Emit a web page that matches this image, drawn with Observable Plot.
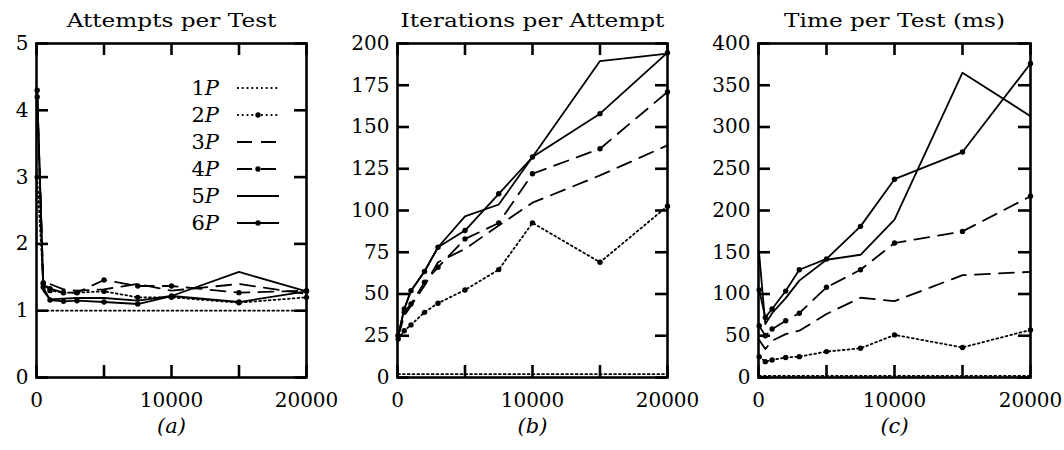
<!DOCTYPE html>
<html><head><meta charset="utf-8">
<script src="https://cdn.jsdelivr.net/npm/d3@7"></script>
<script src="https://cdn.jsdelivr.net/npm/@observablehq/plot@0.6"></script>
<style>
body{margin:0;background:#fff;}
#wrap{position:relative;width:1064px;height:450px;display:flex;}
#wrap svg{display:block;overflow:visible;}
</style></head><body><div id="wrap"></div>
<script>
// ---- data ----
const xs = [50, 500, 1000, 2000, 3000, 5000, 7500, 10000, 15000, 20000];
const seriesNames = ["1P", "2P", "3P", "4P", "5P", "6P"];
const xTicks = [0, 5000, 10000, 15000, 20000];
const xTickLabels = [0, 10000, 20000];

const attemptsPerTest = [
  [1, 1, 1, 1, 1, 1, 1, 1, 1, 1],
  [3.0, 1.42, 1.3, 1.27, 1.27, 1.29, 1.2, 1.2, 1.12, 1.2],
  [4.2, 1.45, 1.4, 1.32, 1.3, 1.32, 1.4, 1.3, 1.4, 1.25],
  [4.2, 1.4, 1.33, 1.27, 1.27, 1.46, 1.37, 1.37, 1.27, 1.3],
  [4.3, 1.3, 1.17, 1.18, 1.19, 1.19, 1.15, 1.22, 1.58, 1.29],
  [4.3, 1.35, 1.16, 1.14, 1.15, 1.13, 1.1, 1.22, 1.13, 1.29]
];
const iterationsPerAttempt = [
  [2, 2, 2, 2, 2, 2, 2, 2, 2, 2],
  [23, 28, 31.5, 39, 44.5, 52.4, 64.6, 92.6, 69, 102.6],
  [25, 37, 43, 55, 69, 77, 91, 104.7, 121, 139],
  [25, 39, 44, 57, 66, 83, 92.5, 122, 137, 171],
  [25, 41, 52, 63.5, 78, 96.5, 103.6, 132, 189.5, 194],
  [25, 41, 52, 63.5, 78, 88, 110, 132, 158, 194.5]
];
const timePerTest = [
  [2, 2, 2, 2, 2, 2, 2, 2, 2, 2],
  [25, 19, 21, 24, 25, 31, 35, 51, 36, 57],
  [45, 34, 44, 52, 56, 76, 95.5, 91.5, 122.5, 126.5],
  [62, 50, 58, 68, 77, 108, 129, 161, 175, 217],
  [148, 64, 77, 95, 116, 141, 147, 189, 365, 313],
  [105, 72, 82, 103.5, 129, 142, 181, 237.5, 270, 376]
];

const titles = ["Attempts per Test", "Iterations per Attempt", "Time per Test (ms)"];
const captions = ["(a)", "(b)", "(c)"];
const yTicksA = [0, 1, 2, 3, 4, 5];
const yTicksB = [0, 25, 50, 75, 100, 125, 150, 175, 200];
const yTicksC = [0, 50, 100, 150, 200, 250, 300, 350, 400];

// ---- styles ----
const dashes = ["1.8,3", "1.8,3", "15,9", "15,9", null, null];
const hasMarker = [false, true, false, true, false, true];
const FONT = "DejaVu Serif";
const LW = 1.8;
const H = 450, MT = 43, MB = 73;
const innerH = H - MT - MB;

function panel(values, yTicks, title, caption, width, ml, mr) {
  const innerW = width - ml - mr;
  const rows = [];
  values.forEach((arr, s) => arr.forEach((v, i) => rows.push({s, x: xs[i], y: v})));
  const marks = [];
  seriesNames.forEach((name, s) => {
    marks.push(Plot.line(rows.filter(d => d.s === s), {
      x: "x", y: "y", stroke: "black", strokeWidth: LW,
      strokeDasharray: dashes[s] || undefined
    }));
  });
  seriesNames.forEach((name, s) => {
    if (hasMarker[s]) marks.push(Plot.dot(rows.filter(d => d.s === s), {x: "x", y: "y", r: 2.7, fill: "black", stroke: "none"}));
  });
  // inward ticks on four sides
  const tw = 2.6, tl = 12;
  marks.push(Plot.ruleX(xTicks, {stroke: "black", strokeWidth: tw, insetTop: innerH - tl}));
  marks.push(Plot.ruleX(xTicks, {stroke: "black", strokeWidth: tw, insetBottom: innerH - tl}));
  marks.push(Plot.ruleY(yTicks, {stroke: "black", strokeWidth: tw, insetRight: innerW - tl}));
  marks.push(Plot.ruleY(yTicks, {stroke: "black", strokeWidth: tw, insetLeft: innerW - tl}));
  marks.push(Plot.frame({stroke: "black", strokeWidth: 2.6}));
  marks.push(Plot.axisX(xTickLabels, {tickSize: 0, tickPadding: 15, tickFormat: "d", label: null}));
  marks.push(Plot.axisY(yTicks, {tickSize: 0, tickPadding: 8, tickFormat: "d", label: null}));
  marks.push(Plot.text([title], {frameAnchor: "top", dy: -30, fontSize: 19, fill: "black", className: "ptitle"}));
  marks.push(Plot.text([caption], {frameAnchor: "bottom", dy: 55, fontSize: 21, fontStyle: "italic", fill: "black"}));
  return Plot.plot({
    width, height: H,
    marginTop: MT, marginBottom: MB, marginLeft: ml, marginRight: mr,
    x: {domain: [0, 20000]},
    y: {domain: [yTicks[0], yTicks[yTicks.length - 1]]},
    style: {fontFamily: FONT, fontSize: "20px", color: "black", background: "white", overflow: "visible"},
    marks
  });
}

const wrap = document.getElementById("wrap");
const pa = panel(attemptsPerTest, yTicksA, titles[0], captions[0], 355, 36, 49);
const pb = panel(iterationsPerAttempt, yTicksB, titles[1], captions[1], 355, 42, 43);
const pc = panel(timePerTest, yTicksC, titles[2], captions[2], 354, 48, 34);
wrap.append(pa, pb, pc);

// widen title glyphs to match the reference's broad serif face
document.querySelectorAll(".ptitle text").forEach(t => {
  const w = t.getComputedTextLength();
  t.setAttribute("textLength", (w * 1.22).toFixed(1));
  t.setAttribute("lengthAdjust", "spacingAndGlyphs");
});

// legend in panel (a)
const lg = d3.select(pa).append("g").attr("font-family", FONT).attr("font-size", 21);
seriesNames.forEach((name, s) => {
  const y = 88 + s * 27;
  const t = lg.append("text").attr("x", 219).attr("y", y).attr("text-anchor", "end").attr("dy", "0.35em").attr("fill", "black");
  t.append("tspan").text(name.slice(0, 1));
  t.append("tspan").attr("font-style", "italic").text(name.slice(1));
  lg.append("line").attr("x1", 237).attr("x2", 279).attr("y1", y).attr("y2", y)
    .attr("stroke", "black").attr("stroke-width", LW)
    .attr("stroke-dasharray", dashes[s] || null);
  if (hasMarker[s]) lg.append("circle").attr("cx", 258).attr("cy", y).attr("r", 2.7).attr("fill", "black");
});
</script>
</body></html>
